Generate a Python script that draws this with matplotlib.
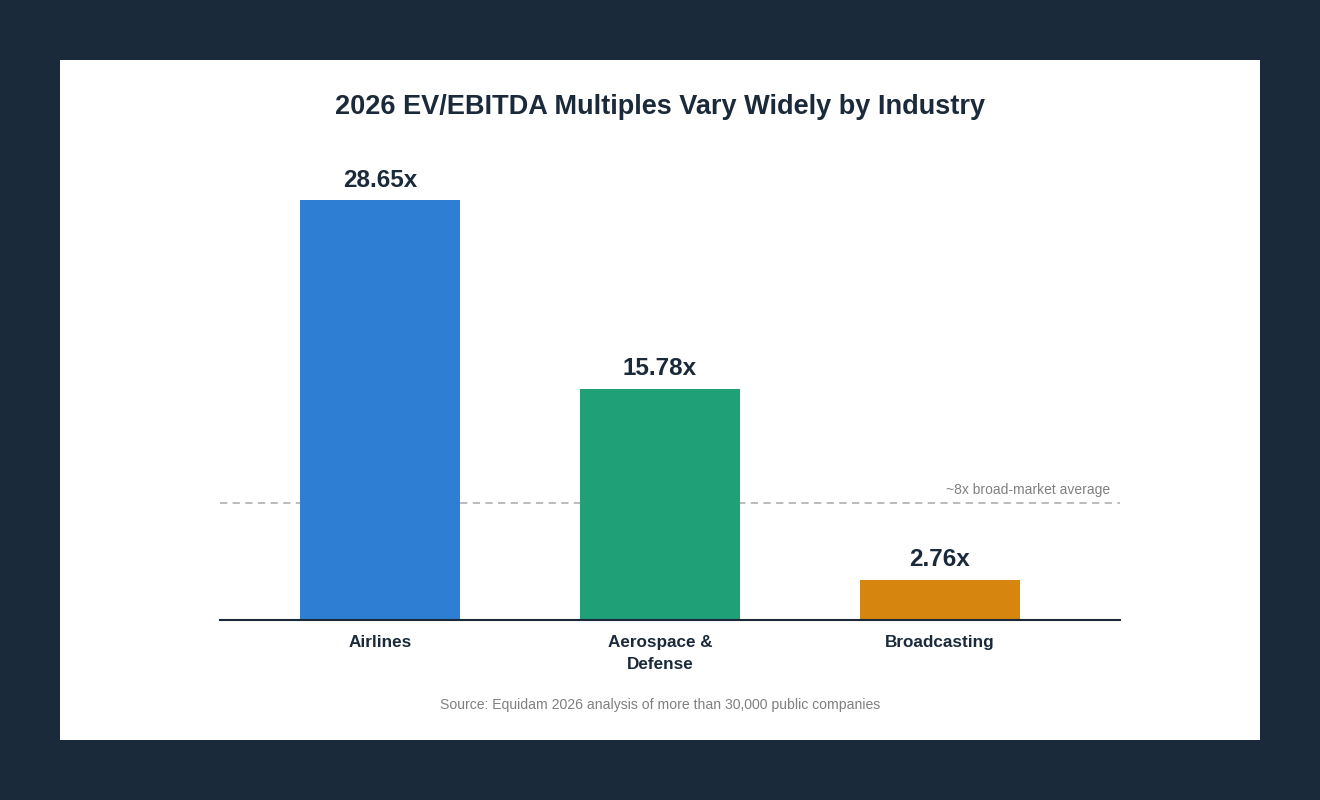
import matplotlib.pyplot as plt
from matplotlib.patches import Rectangle

# donnees
categories = ["Airlines", "Aerospace &\nDefense", "Broadcasting"]
multiples = [28.65, 15.78, 2.76]
value_labels = ["28.65x", "15.78x", "2.76x"]
bar_colors = ["#2e7fd4", "#1fa077", "#d6860f"]
market_avg = 8
avg_label = "~8x broad-market average"

dark = "#1b2a3a"
plt.rcParams['font.family'] = ['Liberation Sans', 'DejaVu Sans']

fig = plt.figure(figsize=(13.2, 8), dpi=100)
fig.patch.set_facecolor(dark)
W, H = 1320, 800

# panneau blanc
fig.add_artist(Rectangle((60 / W, 60 / H), 1200 / W, 680 / H, transform=fig.transFigure,
                         facecolor="white", edgecolor="none", zorder=0))

# axes : x 220-1120, baseline y=620, top y=140
ax = fig.add_axes([220 / W, 180 / H, 900 / W, 480 / H])
ax.set_facecolor("none")
scale = 420 / 28.65  # px par unite
ax.set_ylim(0, 480 / scale)
x = [0, 1, 2]
ax.set_xlim(-160 / 280, 2 + 180 / 280)
ax.bar(x, multiples, width=160 / 280, color=bar_colors, zorder=2)

for xi, v, lab in zip(x, multiples, value_labels):
    ax.annotate(lab, (xi, v), xytext=(0, 6), textcoords="offset points", ha="center",
                va="bottom", fontsize=17.5, fontweight="bold", color=dark)

ax.axhline(market_avg, color="#b5b5b5", linestyle=(0, (4, 3)), linewidth=1.3, zorder=1)
ax.text(2 + 170 / 280, market_avg + 0.4, avg_label, ha="right", va="bottom",
        fontsize=10, color="#808080")

for s in ["top", "right", "left"]:
    ax.spines[s].set_visible(False)
ax.spines["bottom"].set_color(dark)
ax.spines["bottom"].set_linewidth(1.5)
ax.set_yticks([])
ax.set_xticks(x)
ax.set_xticklabels(categories, fontsize=12.3, fontweight="bold", color=dark, linespacing=1.6)
ax.tick_params(axis="x", length=0, pad=11)

fig.text(660 / W, 1 - 107.5 / H, "2026 EV/EBITDA Multiples Vary Widely by Industry",
         ha="center", va="center", fontsize=19.5, fontweight="bold", color=dark)
fig.text(660 / W, 1 - 705 / H, "Source: Equidam 2026 analysis of more than 30,000 public companies",
         ha="center", va="center", fontsize=10.1, color="#808080")

fig.savefig("out.png", dpi=100, facecolor=fig.get_facecolor())
